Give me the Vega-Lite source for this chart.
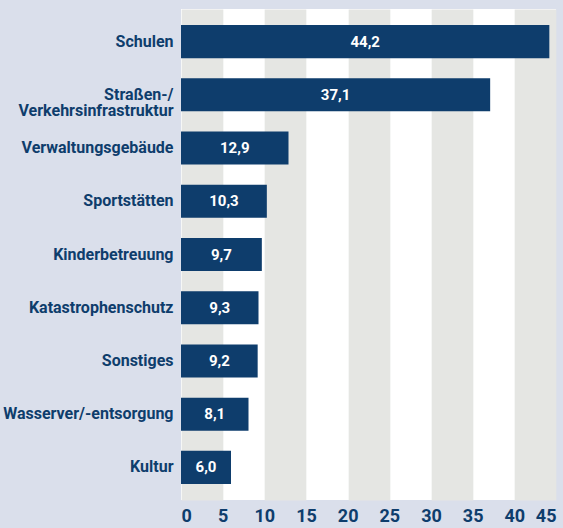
{
  "$schema": "https://vega.github.io/schema/vega-lite/v6.json",
  "autosize": "none",
  "padding": {"left": 181, "top": 9, "right": 7, "bottom": 28},
  "width": 375,
  "height": 491,
  "background": "#dadfeb",
  "config": {
    "view": {"fill": "#ffffff", "stroke": null},
    "font": "Roboto",
    "locale": {"number": {"decimal": ",", "thousands": ".", "grouping": [3], "currency": ["", " €"]}}
  },
  "data": {
    "values": [
      {"k": "Schulen", "v": 44.2},
      {"k": "Straßen-/|Verkehrsinfrastruktur", "v": 37.1},
      {"k": "Verwaltungsgebäude", "v": 12.9},
      {"k": "Sportstätten", "v": 10.3},
      {"k": "Kinderbetreuung", "v": 9.7},
      {"k": "Katastrophenschutz", "v": 9.3},
      {"k": "Sonstiges", "v": 9.2},
      {"k": "Wasserver/-entsorgung", "v": 8.1},
      {"k": "Kultur", "v": 6.0}
    ]
  },
  "encoding": {
    "y": {
      "field": "k", "type": "nominal", "sort": null,
      "scale": {"paddingInner": 0.377, "paddingOuter": 0.3},
      "axis": {
        "title": null, "ticks": false, "domain": false, "grid": false,
        "labelPadding": 8, "labelFontSize": 16, "labelFontWeight": "bold",
        "labelColor": "#0e3d6c", "labelLineHeight": 16,
        "labelExpr": "split(datum.label, '|')", "labelLimit": 300
      }
    }
  },
  "layer": [
    {
      "mark": {"type": "bar", "color": "#0e3d6c"},
      "encoding": {
        "x": {
          "field": "v", "type": "quantitative",
          "scale": {"domain": [0, 45], "nice": false},
          "axis": {
            "orient": "bottom",
            "title": null, "values": [2.5, 12.5, 22.5, 32.5, 42.5],
            "labels": false, "ticks": false, "domain": false,
            "grid": true, "gridColor": "#e5e6e3", "gridWidth": 41.67, "gridOpacity": 1
          }
        }
      }
    },
    {
      "mark": {"type": "text", "color": "#ffffff", "fontWeight": "bold", "fontSize": 15,
               "align": "center", "baseline": "middle",
               "dx": {"expr": "-scale('x', datum.v) / 2"}},
      "encoding": {
        "x": {
          "field": "v", "type": "quantitative",
          "axis": {
            "orient": "bottom",
            "title": null, "values": [0, 5, 10, 15, 20, 25, 30, 35, 40, 45],
            "ticks": false, "domain": false, "grid": false,
            "labelPadding": 7, "labelFontSize": 18, "labelFontWeight": "bold",
            "labelColor": "#0e3d6c", "labelBaseline": "top"
          }
        },
        "text": {"field": "v", "type": "quantitative", "format": ".1f", "formatType": "number"}
      }
    }
  ],
  "resolve": {"axis": {"x": "independent"}}
}
